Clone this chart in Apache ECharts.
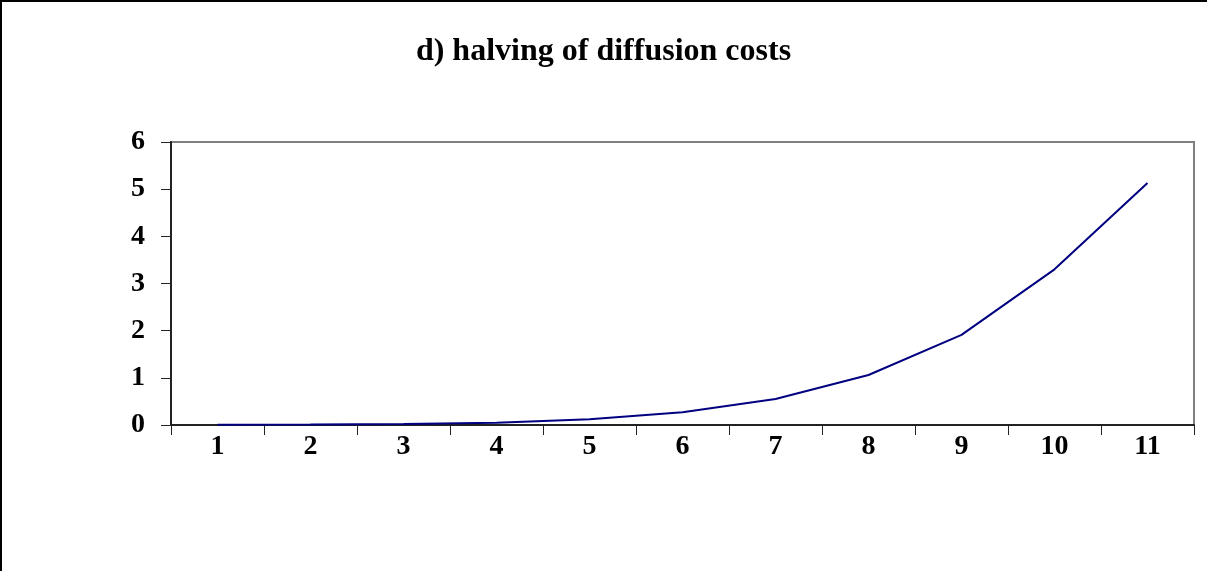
<!DOCTYPE html>
<html>
<head>
<meta charset="utf-8">
<script src="https://cdn.jsdelivr.net/npm/echarts@6/dist/echarts.min.js"></script>
<style>
  html, body { margin: 0; padding: 0; background: #fff; }
  #chart { width: 1207px; height: 571px; }
</style>
</head>
<body>
<div id="chart"></div>
<script>
const titleText = 'd) halving of diffusion costs';
const categories = ['1', '2', '3', '4', '5', '6', '7', '8', '9', '10', '11'];
const costValues = [0.004, 0.01, 0.02, 0.05, 0.12, 0.27, 0.55, 1.06, 1.91, 3.30, 5.13];

const serif = '"Liberation Serif", "Times New Roman", serif';

const chart = echarts.init(document.getElementById('chart'));
chart.setOption({
  animation: false,
  backgroundColor: '#fff',
  title: {
    text: titleText,
    left: 'center',
    top: 31,
    textStyle: { fontFamily: serif, fontWeight: 'bold', fontSize: 32, color: '#000' }
  },
  // outer frame, only the left and top edges are visible in the picture
  graphic: [{
    type: 'rect',
    shape: { x: 1, y: 1, width: 1400, height: 800 },
    style: { fill: 'none', stroke: '#000', lineWidth: 2 },
    silent: true
  }],
  grid: {
    left: 171,
    right: 13,
    top: 142,
    bottom: 146,
    show: true,
    borderColor: '#808080',
    borderWidth: 2,
    backgroundColor: 'transparent'
  },
  xAxis: {
    type: 'category',
    data: categories,
    boundaryGap: true,
    axisLine: { lineStyle: { color: '#222', width: 2 } },
    axisTick: { show: true, length: 10, lineStyle: { color: '#222', width: 1 } },
    axisLabel: { margin: 8, fontFamily: serif, fontWeight: 'bold', fontSize: 28, color: '#000' },
    splitLine: { show: false }
  },
  yAxis: {
    type: 'value',
    min: 0,
    max: 6,
    interval: 1,
    axisLine: { show: true, lineStyle: { color: '#222', width: 2 } },
    axisTick: { show: true, length: 10, lineStyle: { color: '#222', width: 1 } },
    axisLabel: { margin: 26, fontFamily: serif, fontWeight: 'bold', fontSize: 28, color: '#000' },
    splitLine: { show: false }
  },
  series: [{
    type: 'line',
    data: costValues,
    symbol: 'none',
    lineStyle: { color: '#000080', width: 2 }
  }]
});
</script>
</body>
</html>
